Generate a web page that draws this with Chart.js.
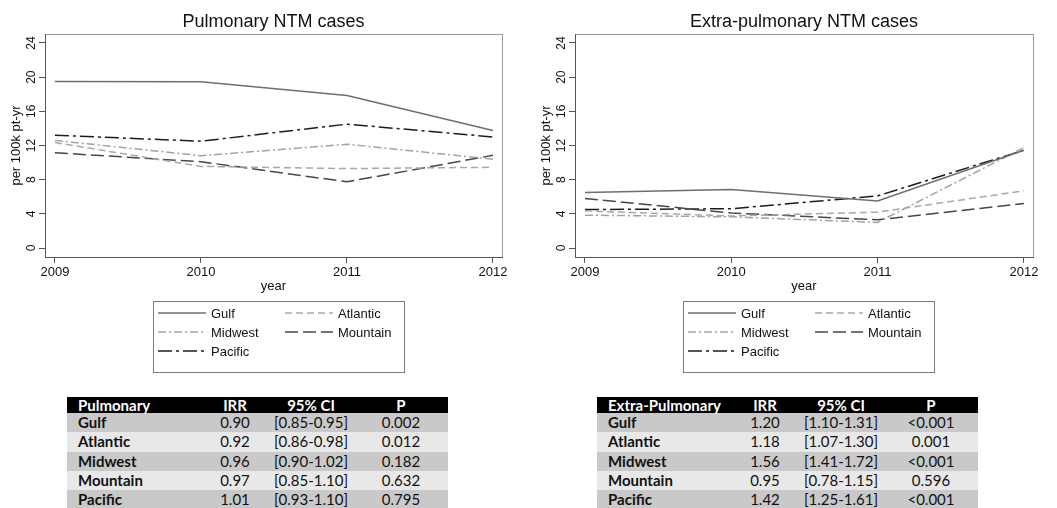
<!DOCTYPE html>
<html>
<head>
<meta charset="utf-8">
<script src="https://cdn.jsdelivr.net/npm/chart.js"></script>
<style>
body{margin:0;width:1057px;height:508px;overflow:hidden;background:#fff;position:relative}
canvas{position:absolute;top:0}
#pulm{left:0}
#extra{left:530px}
table{position:absolute;top:397px;border-collapse:collapse;table-layout:fixed;width:381px;font-family:Lato,'Open Sans',sans-serif;font-size:15px;color:#111}
#t1{left:67px}
#t2{left:597px}
th{background:#000;color:#fff;height:16px;line-height:16px;padding:0;font-weight:bold;text-align:center}
td{height:19.25px;line-height:19.25px;padding:0;text-align:center}
th:first-child,td:first-child{text-align:left;padding-left:11px;font-weight:bold}
tr.dark td{background:#c9c9c9}
tr.light td{background:#e8e8e8}
</style>
</head>
<body>
<canvas id="pulm" width="530" height="380"></canvas>
<canvas id="extra" width="527" height="380"></canvas>
<table id="t1"></table>
<table id="t2"></table>
<script>
var years = [2009, 2010, 2011, 2012];
var yTicks = [0, 4, 8, 12, 16, 20, 24];
var regions = ['Gulf', 'Atlantic', 'Midwest', 'Mountain', 'Pacific'];

// rates per 100k pt-yr
var pulmGulf     = [19.5, 19.45, 17.85, 13.75];
var pulmAtlantic = [12.35, 9.55, 9.3, 9.45];
var pulmMidwest  = [12.6, 10.8, 12.15, 10.4];
var pulmMountain = [11.15, 10.1, 7.75, 10.85];
var pulmPacific  = [13.2, 12.5, 14.5, 13.0];

var extraGulf     = [6.5, 6.85, 5.5, 11.45];
var extraAtlantic = [4.35, 3.75, 4.2, 6.7];
var extraMidwest  = [3.85, 3.65, 3.0, 11.75];
var extraMountain = [5.8, 4.1, 3.3, 5.2];
var extraPacific  = [4.5, 4.6, 6.1, 11.45];

// tables
var tableCols = ['IRR', '95% CI', 'P'];
var pulmIRR = ['0.90', '0.92', '0.96', '0.97', '1.01'];
var pulmCI  = ['[0.85-0.95]', '[0.86-0.98]', '[0.90-1.02]', '[0.85-1.10]', '[0.93-1.10]'];
var pulmP   = ['0.002', '0.012', '0.182', '0.632', '0.795'];
var extraIRR = ['1.20', '1.18', '1.56', '0.95', '1.42'];
var extraCI  = ['[1.10-1.31]', '[1.07-1.30]', '[1.41-1.72]', '[0.78-1.15]', '[1.25-1.61]'];
var extraP   = ['<0.001', '0.001', '<0.001', '0.596', '<0.001'];

Chart.defaults.font.family = "'Liberation Sans', Arial, sans-serif";
Chart.defaults.color = '#111';

var styles = [
    {color: '#6e6e6e', dash: []},
    {color: '#a8a8a8', dash: [7, 4]},
    {color: '#a2a2a2', dash: [8, 3, 2, 3]},
    {color: '#474747', dash: [13, 5]},
    {color: '#1c1c1c', dash: [14, 4, 3, 4]}
];

function points(vals) {
    return years.map(function(y, i){ return {x: y, y: vals[i]}; });
}

var framePlugin = {
    id: 'frame',
    beforeDraw: function(chart) {
        var a = chart.chartArea, ctx = chart.ctx;
        ctx.save();
        ctx.strokeStyle = '#9c9c9c';
        ctx.lineWidth = 1;
        ctx.strokeRect(a.left + 0.5, a.top + 0.5, a.right - a.left, a.bottom - a.top);
        ctx.restore();
    }
};

// stata style: y labels turned on their side
var yLabelPlugin = {
    id: 'ylabels',
    afterDraw: function(chart) {
        var s = chart.scales.y, ctx = chart.ctx;
        ctx.save();
        ctx.font = "12px 'Liberation Sans', Arial, sans-serif";
        ctx.fillStyle = '#111';
        ctx.textAlign = 'center';
        ctx.textBaseline = 'middle';
        s.ticks.forEach(function(t){
            ctx.save();
            ctx.translate(32, s.getPixelForValue(t.value));
            ctx.rotate(-Math.PI / 2);
            ctx.fillText(String(t.value), 0, 0);
            ctx.restore();
        });
        ctx.restore();
    }
};

var boxLegend = {
    id: 'boxlegend',
    afterDraw: function(chart) {
        var ctx = chart.ctx;
        var bx = 153, by = 301, bw = 251, bh = 71;
        ctx.save();
        ctx.strokeStyle = '#7a7a7a';
        ctx.lineWidth = 1;
        ctx.strokeRect(bx + 0.5, by + 0.5, bw, bh);
        ctx.font = "13px 'Liberation Sans', Arial, sans-serif";
        ctx.textBaseline = 'middle';
        ctx.textAlign = 'left';
        chart.data.datasets.forEach(function(ds, i){
            var col = i % 2, row = Math.floor(i / 2);
            var x0 = 158 + col * 127, y0 = 313 + row * 19;
            ctx.strokeStyle = ds.borderColor;
            ctx.lineWidth = ds.borderWidth;
            ctx.setLineDash(ds.borderDash);
            ctx.beginPath();
            ctx.moveTo(x0, y0);
            ctx.lineTo(x0 + 48, y0);
            ctx.stroke();
            ctx.setLineDash([]);
            ctx.fillStyle = '#111';
            ctx.fillText(ds.label, x0 + 53, y0 + 1);
        });
        ctx.restore();
    }
};

function makeChart(id, title, series, padRight) {
    new Chart(document.getElementById(id), {
        type: 'line',
        data: {
            datasets: series.map(function(vals, i){
                return {
                    label: regions[i],
                    data: points(vals),
                    borderColor: styles[i].color,
                    borderDash: styles[i].dash,
                    borderWidth: 1.5,
                    pointRadius: 0,
                    tension: 0,
                    fill: false
                };
            })
        },
        options: {
            responsive: false,
            animation: false,
            layout: {padding: {top: 11, right: padRight, bottom: 86, left: 0}},
            plugins: {
                legend: {display: false},
                tooltip: {enabled: false},
                title: {
                    display: true,
                    text: title,
                    fullSize: false,
                    font: {size: 18, weight: 'normal'},
                    padding: {top: 0, bottom: 1.4}
                }
            },
            scales: {
                x: {
                    type: 'linear',
                    min: 2008.932,
                    max: 2012.062,
                    afterBuildTicks: function(s){ s.ticks = years.map(function(v){ return {value: v}; }); },
                    afterFit: function(s){ s.height = 37; },
                    grid: {drawOnChartArea: false, tickLength: 6, color: '#555'},
                    border: {color: '#555'},
                    ticks: {font: {size: 13}, padding: 2, maxRotation: 0, callback: function(v){ return String(v); }},
                    title: {display: true, text: 'year', font: {size: 13}, padding: 0}
                },
                y: {
                    min: -1.05,
                    max: 25.05,
                    afterBuildTicks: function(s){ s.ticks = yTicks.map(function(v){ return {value: v}; }); },
                    afterFit: function(s){ s.width = 45; },
                    grid: {drawOnChartArea: false, tickLength: 6, color: '#555'},
                    border: {color: '#555'},
                    ticks: {display: false},
                    title: {display: true, text: 'per 100k pt-yr', font: {size: 13}, padding: {top: 9}}
                }
            }
        },
        plugins: [framePlugin, yLabelPlugin, boxLegend]
    });
}

makeChart('pulm', 'Pulmonary NTM cases',
    [pulmGulf, pulmAtlantic, pulmMidwest, pulmMountain, pulmPacific], 28);
makeChart('extra', 'Extra-pulmonary NTM cases',
    [extraGulf, extraAtlantic, extraMidwest, extraMountain, extraPacific], 24);

function fillTable(id, head, irr, ci, p) {
    var html = '<tr><th>' + head + '</th>' + tableCols.map(function(c){ return '<th>' + c + '</th>'; }).join('') + '</tr>';
    regions.forEach(function(r, i){
        html += '<tr class="' + (i % 2 === 0 ? 'dark' : 'light') + '"><td>' + r + '</td><td>' + irr[i] +
            '</td><td>' + ci[i] + '</td><td>' + p[i].replace('<', '&lt;') + '</td></tr>';
    });
    var t = document.getElementById(id);
    t.innerHTML = '<colgroup><col style="width:135px"><col style="width:66px"><col style="width:86px"><col style="width:94px"></colgroup>' + html;
}
fillTable('t1', 'Pulmonary', pulmIRR, pulmCI, pulmP);
fillTable('t2', 'Extra-Pulmonary', extraIRR, extraCI, extraP);
</script>
</body>
</html>
